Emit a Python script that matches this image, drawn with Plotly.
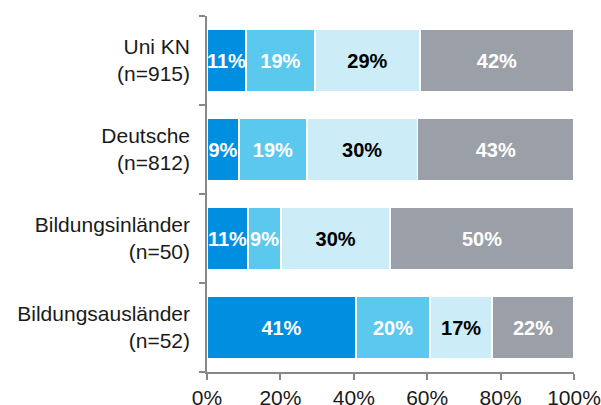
import plotly.graph_objects as go

categories = ["Uni KN<br>(n=915)", "Deutsche<br>(n=812)", "Bildungsinländer<br>(n=50)", "Bildungsausländer<br>(n=52)"]
series_names = ["s1", "s2", "s3", "s4"]
values = [
    [10.6, 8.7, 11.2, 40.6],
    [18.8, 18.5, 9.0, 20.2],
    [28.6, 30.2, 29.7, 16.9],
    [42.0, 42.6, 50.1, 22.3],
]
colors = ["#008FE0", "#5BC8EE", "#CCEDF8", "#9BA0A8"]
text_colors = ["white", "white", "black", "white"]
x_ticks = [0, 20, 40, 60, 80, 100]
x_tick_labels = ["0%", "20%", "40%", "60%", "80%", "100%"]

fig = go.Figure()
for name, vals, col, tc in zip(series_names, values, colors, text_colors):
    fig.add_trace(go.Bar(
        y=categories, x=vals, orientation="h", name=name,
        marker=dict(color=col, line=dict(color="white", width=1.5)),
        texttemplate="%{x:.0f}%", textposition="inside", insidetextanchor="middle",
        constraintext="none", textangle=0,
        textfont=dict(family="Liberation Sans", size=20, color=tc, weight="bold"),
        cliponaxis=False,
    ))

fig.update_layout(
    barmode="stack", bargap=0.3, showlegend=False,
    width=601, height=405,
    margin=dict(l=207, r=27, t=16, b=33),
    paper_bgcolor="white", plot_bgcolor="white",
    font=dict(family="Liberation Sans", size=21, color="#1a1a1a"),
)
fig.update_xaxes(
    range=[0, 100], tickvals=x_ticks, ticktext=x_tick_labels,
    showgrid=False, zeroline=False, showline=True, linecolor="#888888", linewidth=1.5,
    ticks="outside", ticklen=6, tickcolor="#888888", tickwidth=1.5,
    tickfont=dict(size=21, color="#1a1a1a"), automargin=False,
)
fig.update_yaxes(
    categoryorder="array", categoryarray=categories[::-1],
    showgrid=False, showline=True, linecolor="#888888", linewidth=1.5,
    ticks="outside", ticklen=6, tickcolor="#888888", tickwidth=1.5,
    tickson="boundaries", ticklabelstandoff=11,
    tickfont=dict(size=21, color="#1a1a1a"), automargin=False,
)

fig.write_html("out.html")
